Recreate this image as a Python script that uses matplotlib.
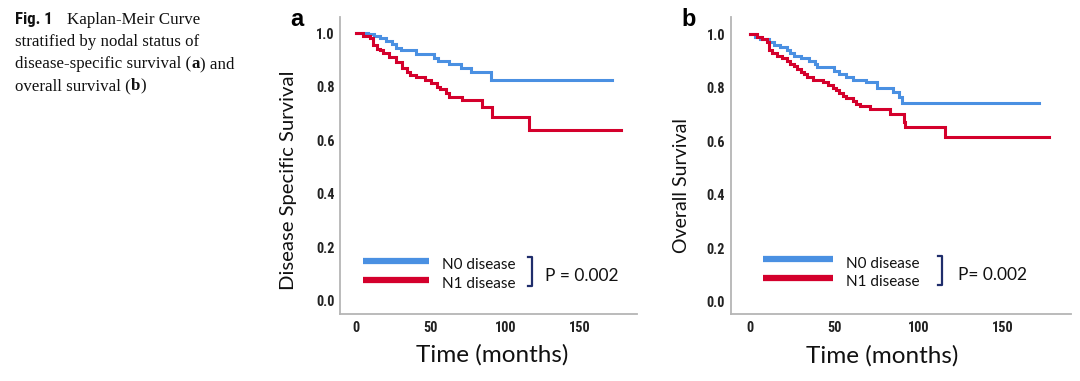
import numpy as np
import matplotlib
matplotlib.use("Agg")
import matplotlib.pyplot as plt
from matplotlib import font_manager

# Kaplan-Meier step data (months, survival)
dss_n0_t = [0, 8, 12, 16, 20, 24, 27, 30, 40, 52, 55, 62, 70, 77, 90]
dss_n0_s = [1.0, 0.995, 0.99, 0.98, 0.97, 0.96, 0.945, 0.935, 0.92, 0.905, 0.895, 0.885, 0.87, 0.855, 0.825]
dss_n0_end = 171

dss_n1_t = [0, 5, 9.5, 11.5, 14, 16, 18, 22, 27, 31, 34, 36, 40, 46, 50, 54, 56, 60, 62, 71, 84, 91, 116]
dss_n1_s = [1.0, 0.99, 0.98, 0.955, 0.94, 0.935, 0.925, 0.91, 0.89, 0.87, 0.855, 0.845, 0.835, 0.825, 0.815,
            0.80, 0.79, 0.775, 0.76, 0.75, 0.725, 0.685, 0.638]
dss_n1_end = 177

os_n0_t = [0, 3, 6, 11, 14, 18, 22, 24, 26, 30, 35, 38.5, 39.5, 50, 53, 57, 61, 69, 75, 85, 88, 90]
os_n0_s = [1.0, 0.99, 0.98, 0.97, 0.96, 0.95, 0.94, 0.93, 0.92, 0.91, 0.90, 0.89, 0.877, 0.864, 0.85,
           0.84, 0.83, 0.82, 0.80, 0.785, 0.765, 0.743]
os_n0_end = 171

os_n1_t = [0, 4, 7, 10, 11, 13, 16, 19, 22, 24, 26, 28, 30, 32, 34, 37.5, 43, 46, 49, 51, 53, 55, 57,
           61, 63, 65, 71, 83, 91, 92, 115.5]
os_n1_s = [1.0, 0.99, 0.98, 0.97, 0.94, 0.93, 0.92, 0.91, 0.90, 0.89, 0.88, 0.87, 0.86, 0.85, 0.84,
           0.83, 0.82, 0.81, 0.80, 0.79, 0.78, 0.77, 0.76, 0.75, 0.74, 0.73, 0.72, 0.70, 0.673, 0.654, 0.615]
os_n1_end = 177

x_ticks = [0, 50, 100, 150]
y_ticks = [0.0, 0.2, 0.4, 0.6, 0.8, 1.0]
group_labels = ["N0 disease", "N1 disease"]

BLUE = "#4a90e2"
RED = "#d4002c"
NAVY = "#1f2d6b"

# pick a narrow face for the tick labels if one is installed
fonts = font_manager.fontManager.ttflist
tick_font = dict(family="DejaVu Sans", stretch="normal", size=8)
for fam in ["Liberation Sans Narrow", "Roboto Condensed", "Open Sans Condensed"]:
    if any(f.name == fam for f in fonts):
        tick_font = dict(family=fam, stretch="normal", size=10.3)
        break
else:
    if any(f.name == "DejaVu Sans" and f.stretch == "condensed" for f in fonts):
        tick_font = dict(family="DejaVu Sans", stretch="condensed", size=9.5)
label_font = "Lato"


def km_step(ax, t, s, end, color):
    t = list(t) + [end]
    s = list(s) + [s[-1]]
    ax.step(t, s, where="post", color=color, lw=2.2, solid_joinstyle="miter")


def setup_axes(ax, xlim, ylim, ylabel, ylab_size, ylab_pos, xlab_pos):
    ax.set_xlim(*xlim)
    ax.set_ylim(*ylim)
    for side in ["top", "right"]:
        ax.spines[side].set_visible(False)
    for side in ["left", "bottom"]:
        ax.spines[side].set_color("#b5b5b5")
        ax.spines[side].set_linewidth(1.3)
    ax.set_xticks(x_ticks)
    ax.set_yticks(y_ticks)
    ax.set_yticklabels([f"{v:.1f}" for v in y_ticks])
    ax.tick_params(length=0, pad=4)
    ax.tick_params(axis="x", pad=5)
    for lab in ax.get_xticklabels() + ax.get_yticklabels():
        lab.set_fontfamily(tick_font["family"])
        lab.set_fontstretch(tick_font["stretch"])
        lab.set_fontsize(tick_font["size"])
        lab.set_fontweight("bold")
        lab.set_color("#222222")
    ax.set_ylabel(ylabel, fontsize=ylab_size, family=label_font, color="#111111")
    ax.yaxis.set_label_coords(*ylab_pos)
    ax.set_xlabel("Time (months)", fontsize=17.5, family=label_font, color="#111111")
    ax.xaxis.set_label_coords(*xlab_pos)


def legend_block(ax, line_x, y_blue, y_red, text_x, ty_blue, ty_red, br_x, br_y, p_x, p_y, p_text):
    ax.plot(line_x, [y_blue, y_blue], color=BLUE, lw=4.5, transform=ax.transAxes, solid_capstyle="butt")
    ax.plot(line_x, [y_red, y_red], color=RED, lw=4.5, transform=ax.transAxes, solid_capstyle="butt")
    ax.text(text_x, ty_blue, group_labels[0], transform=ax.transAxes, fontsize=11,
            family=label_font, va="center", ha="left", color="#111111")
    ax.text(text_x, ty_red, group_labels[1], transform=ax.transAxes, fontsize=11,
            family=label_font, va="center", ha="left", color="#111111")
    x0, x1 = br_x
    y0, y1 = br_y
    ax.plot([x0, x1, x1, x0], [y1, y1, y0, y0], color=NAVY, lw=1.6, transform=ax.transAxes)
    ax.text(p_x, p_y, p_text, transform=ax.transAxes, fontsize=12.5,
            family=label_font, va="center", ha="left", color="#111111")


fig = plt.figure(figsize=(10.8, 3.81), dpi=100)

ax_a = fig.add_axes([0.3148, 0.1759, 0.275, 0.7795])
km_step(ax_a, dss_n0_t, dss_n0_s, dss_n0_end, BLUE)
km_step(ax_a, dss_n1_t, dss_n1_s, dss_n1_end, RED)
setup_axes(ax_a, (-10.7, 188), (-0.05, 1.06), "Disease Specific Survival", 14.6,
           (-0.145, 0.45), (0.512, -0.1))
legend_block(ax_a, [0.077, 0.30], 0.178, 0.114, 0.343, 0.165, 0.101,
             (0.633, 0.646), (0.094, 0.192), 0.69, 0.128, "P = 0.002")

ax_b = fig.add_axes([0.6766, 0.1759, 0.3148, 0.7795])
km_step(ax_b, os_n0_t, os_n0_s, os_n0_end, BLUE)
km_step(ax_b, os_n1_t, os_n1_s, os_n1_end, RED)
setup_axes(ax_b, (-11.4, 190), (-0.046, 1.064), "Overall Survival", 14,
           (-0.12, 0.434), (0.445, -0.105))
legend_block(ax_b, [0.095, 0.30], 0.185, 0.121, 0.339, 0.168, 0.108,
             (0.61, 0.621), (0.098, 0.195), 0.668, 0.131, "P= 0.002")

# panel letters
fig.text(290 / 1080, 1 - 20 / 381, "a", fontsize=17, fontweight="bold", family="Liberation Sans",
         va="center", ha="left")
fig.text(681 / 1080, 1 - 20 / 381, "b", fontsize=17, fontweight="bold", family="Liberation Sans",
         va="center", ha="left")

# caption: bold sans label, serif body, bold panel letters inline
serif = "Liberation Serif"
cap_size = 12.2
x0 = 15 / 1080
base = [1 - 24 / 381, 1 - 46 / 381, 1 - 68 / 381, 1 - 90 / 381]


def after(ref, txt, y, weight="normal", family=serif, dx=0):
    return plt.annotate(
        txt, xy=(1, y), xycoords=(ref, "figure fraction"), xytext=(dx, 0),
        textcoords="offset points", family=family, fontweight=weight,
        fontsize=cap_size, va="baseline", ha="left", color="#111111", annotation_clip=False)


fig.text(x0, base[0], "Fig. 1", family=tick_font["family"], stretch=tick_font["stretch"],
         fontweight="bold", fontsize=12, va="baseline", color="#111111")
fig.text(67 / 1080, base[0], "Kaplan-Meir Curve", family=serif, fontsize=cap_size,
         va="baseline", color="#111111")
fig.text(x0, base[1], "stratified by nodal status of", family=serif, fontsize=cap_size,
         va="baseline", color="#111111")
l3 = fig.text(x0, base[2], "disease-specific survival (", family=serif, fontsize=cap_size,
              va="baseline", color="#111111")
l3b = after(l3, "a", base[2], weight="bold")
after(l3b, ") and", base[2])
l4 = fig.text(x0, base[3], "overall survival (", family=serif, fontsize=cap_size,
              va="baseline", color="#111111")
l4b = after(l4, "b", base[3], weight="bold")
after(l4b, ")", base[3])

fig.savefig("out.png", dpi=100)
